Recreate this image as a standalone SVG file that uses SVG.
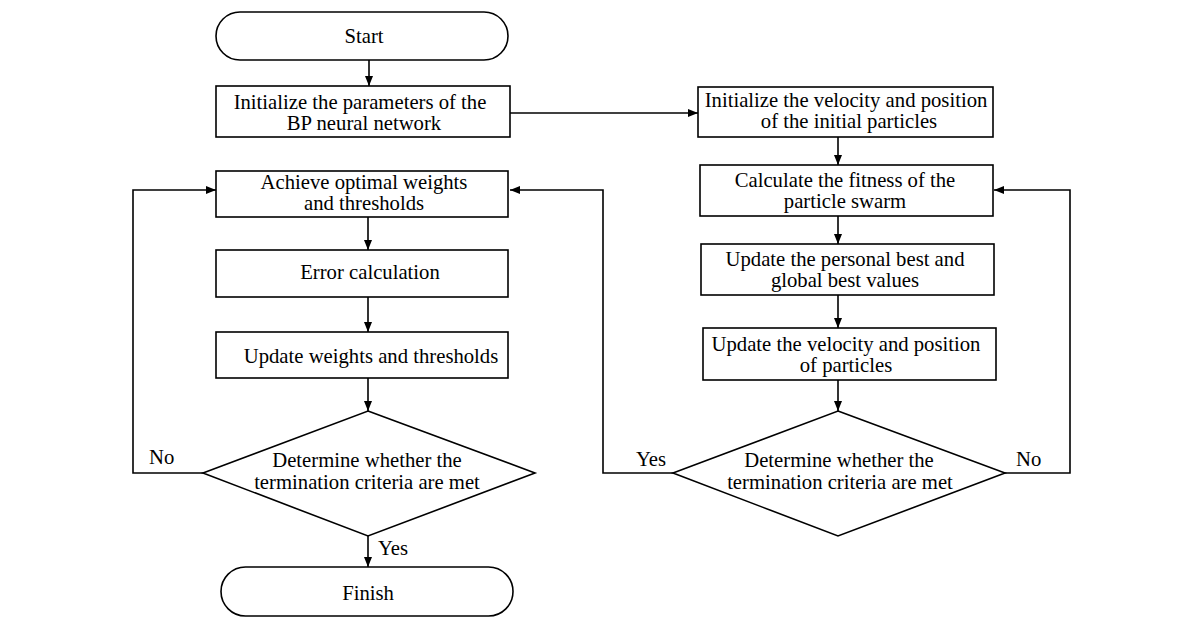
<svg xmlns="http://www.w3.org/2000/svg" width="1200" height="629" viewBox="0 0 1200 629">
<style>
.box{fill:#fff;stroke:#000;stroke-width:1.6}
.ln{fill:none;stroke:#000;stroke-width:1.6}
text{font-family:"Liberation Serif","Times New Roman",serif;font-size:20.7px;fill:#000;text-anchor:middle}
.lbl{text-anchor:start}
</style>
<defs>
<marker id="ah" viewBox="0 0 10 8" refX="10" refY="4" markerWidth="10" markerHeight="8" markerUnits="userSpaceOnUse" orient="auto">
<path d="M0,0 L10,4 L0,8 Z" fill="#000"/>
</marker>
</defs>
<rect width="1200" height="629" fill="#fff"/>
<g id="connectors">
<line class="ln" x1="369" y1="60" x2="369" y2="86" marker-end="url(#ah)"/>
<line class="ln" x1="510" y1="113" x2="698" y2="113" marker-end="url(#ah)"/>
<line class="ln" x1="838" y1="137" x2="838" y2="165" marker-end="url(#ah)"/>
<line class="ln" x1="838" y1="216" x2="838" y2="244" marker-end="url(#ah)"/>
<line class="ln" x1="838" y1="295" x2="838" y2="328" marker-end="url(#ah)"/>
<line class="ln" x1="838" y1="380" x2="838" y2="411" marker-end="url(#ah)"/>
<polyline class="ln" points="673,473 603,473 603,190 510,190" marker-end="url(#ah)"/>
<polyline class="ln" points="1005,473 1070,473 1070,190 994,190" marker-end="url(#ah)"/>
<line class="ln" x1="368" y1="217" x2="368" y2="250" marker-end="url(#ah)"/>
<line class="ln" x1="368" y1="297" x2="368" y2="332" marker-end="url(#ah)"/>
<line class="ln" x1="368" y1="378" x2="368" y2="411" marker-end="url(#ah)"/>
<polyline class="ln" points="203,473 133,473 133,190 216,190" marker-end="url(#ah)"/>
<line class="ln" x1="368" y1="536" x2="368" y2="567" marker-end="url(#ah)"/>
<text class="lbl" x="149" y="464">No</text>
<text class="lbl" x="378" y="555">Yes</text>
<text class="lbl" x="636" y="466">Yes</text>
<text class="lbl" x="1016" y="466">No</text>
</g>
<g id="start">
<rect class="box" x="216" y="12" width="292" height="48" rx="24"/>
<text x="364" y="43">Start</text>
</g>
<g id="init-bp">
<rect class="box" x="216" y="86" width="294" height="51"/>
<text x="360" y="109">Initialize the parameters of the</text>
<text x="364" y="130">BP neural network</text>
</g>
<g id="init-particles">
<rect class="box" x="698" y="87" width="295" height="50"/>
<text x="846" y="107">Initialize the velocity and position</text>
<text x="849" y="128">of the initial particles</text>
</g>
<g id="fitness">
<rect class="box" x="700" y="165" width="293" height="51"/>
<text x="845" y="187">Calculate the fitness of the</text>
<text x="845" y="208">particle swarm</text>
</g>
<g id="update-best">
<rect class="box" x="701" y="244" width="293" height="51"/>
<text x="845" y="266">Update the personal best and</text>
<text x="845" y="287">global best values</text>
</g>
<g id="update-velocity">
<rect class="box" x="703" y="328" width="293" height="52"/>
<text x="846" y="351">Update the velocity and position</text>
<text x="846" y="372">of particles</text>
</g>
<g id="decision-right">
<polygon class="box" points="838,411 1005,473 838,536 673,473"/>
<text x="839" y="467">Determine whether the</text>
<text x="840" y="489">termination criteria are met</text>
</g>
<g id="achieve">
<rect class="box" x="216" y="171" width="292" height="46"/>
<text x="364" y="189">Achieve optimal weights</text>
<text x="364" y="210">and thresholds</text>
</g>
<g id="error">
<rect class="box" x="216" y="250" width="292" height="47"/>
<text x="370" y="279">Error calculation</text>
</g>
<g id="update-weights">
<rect class="box" x="216" y="332" width="292" height="46"/>
<text x="371" y="363">Update weights and thresholds</text>
</g>
<g id="decision-left">
<polygon class="box" points="368,411 535,473 368,536 203,473"/>
<text x="367" y="467">Determine whether the</text>
<text x="367" y="489">termination criteria are met</text>
</g>
<g id="finish">
<rect class="box" x="221" y="567" width="292" height="49" rx="24.5"/>
<text x="368" y="600">Finish</text>
</g>
</svg>
